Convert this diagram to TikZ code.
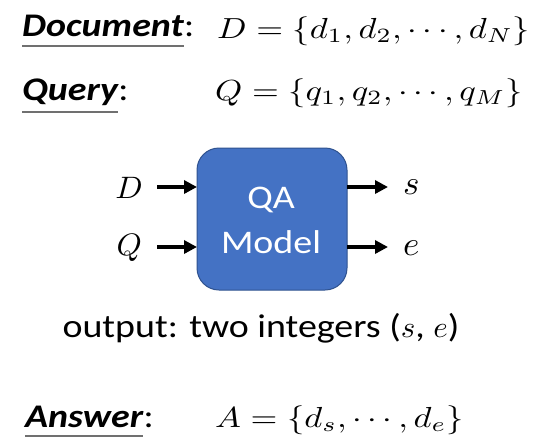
\documentclass[tikz,border=0pt]{standalone}
\usepackage{fontspec}
\setmainfont{Carlito}[FakeStretch=1.15]
\usetikzlibrary{arrows.meta}
\definecolor{boxfill}{HTML}{4472C4}
\definecolor{boxline}{HTML}{2F528F}
\definecolor{ulcol}{HTML}{707070}
\newcommand{\mathsz}[1]{\scalebox{3.45}[2.9]{\normalsize$#1$}}
\newcommand{\lblsz}[1]{\scalebox{3.2}[3.1]{\normalsize$#1$}}
\newcommand{\lblsm}[1]{\scalebox{3.5}[3.4]{\normalsize$#1$}}
\newcommand{\outsz}[1]{\scalebox{3.1}[3.0]{\normalsize$#1$}}
\begin{document}
\begin{tikzpicture}[x=1pt,y=-1pt,
  lbl/.style={anchor=base west,inner sep=0pt,font=\fontsize{33}{38}\selectfont},
  ul/.style={ulcol,line width=1.8pt},
  arr/.style={line width=4pt,-{Triangle[length=13pt,width=13pt]}},
  qabox/.style={draw=boxline,line width=1pt,fill=boxfill,rounded corners=22pt}]
\useasboundingbox[fill=white] (0,0) rectangle (533,445);
% Document line
\node[lbl] (doc) at (22,36) {\bfseries\itshape Document};
\node[lbl] (docc) at (doc.base east) {:};
\draw[ul] (22,46) -- (184,46);
\node[anchor=base west,inner sep=0pt] (dset) at (217,38) {\mathsz{D=\{d_1,d_2,\cdots,d_N\}}};
% Query line
\node[lbl] (qry) at (22,100) {\bfseries\itshape Query};
\node[lbl] (qryc) at (qry.base east) {:};
\draw[ul] (22,112) -- (118,112);
\node[anchor=base west,inner sep=0pt] (qset) at (215,100) {\mathsz{Q=\{q_1,q_2,\cdots,q_M\}}};
% box
\draw[qabox] (197,148) rectangle (347,290);
\coordinate (bW) at (197,219);
\coordinate (bE) at (347,219);
\node[anchor=base,inner sep=0pt,text=white,font=\fontsize{33}{38}\selectfont] (qa) at (271,208) {QA};
\node[anchor=base,inner sep=0pt,text=white,font=\fontsize{33}{38}\selectfont] (model) at (271,253) {Model};
% labels
\node[anchor=base east,inner sep=0pt] (lD) at (143,198) {\lblsz{D}};
\node[anchor=base east,inner sep=0pt] (lQ) at (142,255) {\lblsz{Q}};
\node[anchor=base west,inner sep=0pt] (ls) at (403,194) {\lblsm{s}};
\node[anchor=base west,inner sep=0pt] (le) at (403,255) {\lblsm{e}};
\coordinate (aD) at (157,187);
\coordinate (aQ) at (157,247);
\coordinate (as) at (388,187);
\coordinate (ae) at (388,247);
\draw[arr] (aD) -- (aD -| bW);
\draw[arr] (aQ) -- (aQ -| bW);
\draw[arr] (as -| bE) -- (as);
\draw[arr] (ae -| bE) -- (ae);
% output text
\node[anchor=base,inner sep=0pt,font=\fontsize{33}{38}\selectfont] (out) at (261,337) {output: two integers (\outsz{s}, \outsz{e})};
% Answer
\node[lbl] (ans) at (25,427) {\bfseries\itshape Answer};
\node[lbl] (ansc) at (ans.base east) {:};
\draw[ul] (25,436) -- (143,436);
\node[anchor=base west,inner sep=0pt] (aset) at (215,427) {\mathsz{A=\{d_s,\cdots,d_e\}}};
\end{tikzpicture}
\end{document}
